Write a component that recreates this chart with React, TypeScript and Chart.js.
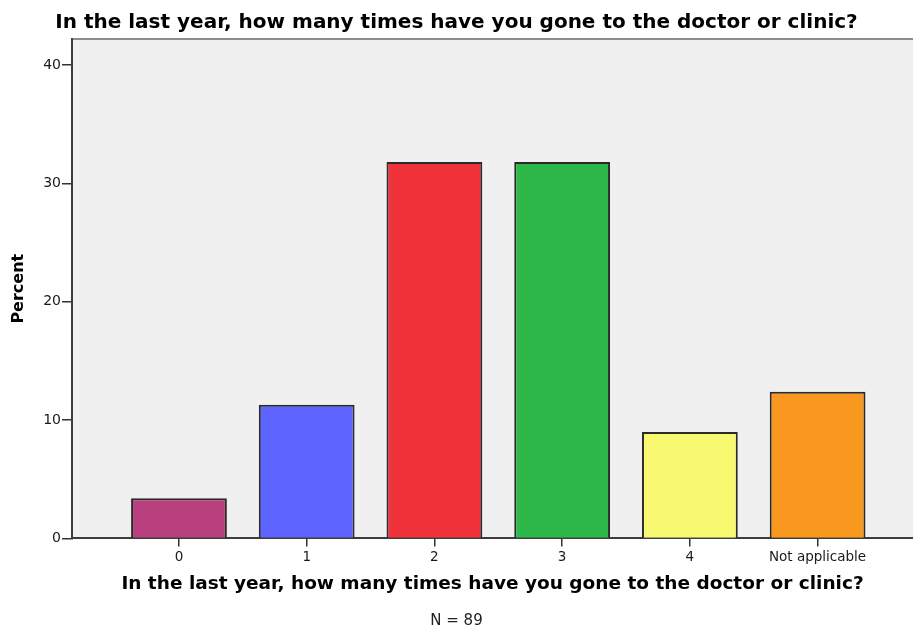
import React, { useEffect, useRef } from 'react';
import { Chart, registerables } from 'chart.js';

Chart.register(...registerables);

const categories: string[] = ['0', '1', '2', '3', '4', 'Not applicable'];
const percentValues: number[] = [3.4, 11.3, 31.8, 31.8, 9.0, 12.4];
const barColors: string[] = ['#b8407e', '#5c63ff', '#f0333b', '#2eb84a', '#f9f871', '#f8981e'];
const yTickValues: number[] = [0, 10, 20, 30, 40];
const chartTitle = 'In the last year, how many times have you gone to the doctor or clinic?';
const xAxisTitle = 'In the last year, how many times have you gone to the doctor or clinic?';
const yAxisTitle = 'Percent';
const footnote = 'N = 89';

const plotBackground = {
  id: 'plotBackground',
  beforeDraw(chart: any) {
    const { ctx, chartArea: a } = chart;
    ctx.save();
    ctx.fillStyle = '#f0f0f0';
    ctx.fillRect(a.left, a.top, a.right - a.left, a.bottom - a.top);
    ctx.strokeStyle = '#8c8c8c';
    ctx.lineWidth = 2;
    ctx.beginPath();
    ctx.moveTo(a.left, a.top);
    ctx.lineTo(a.right, a.top);
    ctx.stroke();
    ctx.restore();
  },
};

export default function App() {
  const canvasRef = useRef<HTMLCanvasElement | null>(null);

  useEffect(() => {
    document.body.style.margin = '0';
    const canvas = canvasRef.current;
    if (!canvas) return;
    const chart = new Chart(canvas, {
      type: 'bar',
      data: {
        datasets: [
          {
            data: percentValues.map((v, i) => ({ x: i, y: v })),
            backgroundColor: barColors,
            borderColor: '#2a2a2a',
            borderWidth: 2,
            barPercentage: 0.75,
            categoryPercentage: 1,
          },
        ],
      },
      options: {
        animation: false,
        responsive: false,
        maintainAspectRatio: false,
        layout: { padding: 0 },
        plugins: {
          legend: { display: false },
          tooltip: { enabled: false },
          title: {
            display: true,
            text: chartTitle,
            color: '#000',
            font: { family: 'DejaVu Sans', size: 20, weight: 'bold', lineHeight: 1.2 },
            padding: { top: 11, bottom: 4 },
          },
          subtitle: {
            display: true,
            position: 'bottom',
            text: footnote,
            color: '#222',
            font: { family: 'DejaVu Sans', size: 15, lineHeight: 0.8 },
            padding: { top: 20, bottom: 0 },
          },
        },
        scales: {
          x: {
            type: 'linear',
            min: -0.8375,
            max: 5.747,
            offset: false,
            afterBuildTicks: (scale: any) => {
              scale.ticks = categories.map((_, i) => ({ value: i }));
            },
            ticks: {
              autoSkip: false,
              maxRotation: 0,
              padding: 3,
              color: '#1a1a1a',
              font: { family: 'DejaVu Sans', size: 13.5 },
              callback: (v: any) => categories[Number(v)] ?? '',
            },
            grid: {
              offset: false,
              drawOnChartArea: false,
              drawTicks: true,
              tickLength: 8,
              color: '#333',
              lineWidth: 1.5,
            },
            border: { display: true, color: '#3c3c3c', width: 2 },
            title: {
              display: true,
              text: xAxisTitle,
              color: '#000',
              font: { family: 'DejaVu Sans', size: 18.5, weight: 'bold', lineHeight: 1.2 },
              padding: { top: 4.2, bottom: 0 },
            },
          },
          y: {
            type: 'linear',
            min: 0,
            max: 42.2,
            afterBuildTicks: (scale: any) => {
              scale.ticks = yTickValues.map((v) => ({ value: v }));
            },
            afterFit: (scale: any) => {
              scale.width = 72;
            },
            ticks: {
              padding: 1,
              color: '#1a1a1a',
              font: { family: 'DejaVu Sans', size: 14 },
            },
            grid: {
              drawOnChartArea: false,
              drawTicks: true,
              tickLength: 10,
              color: '#333',
              lineWidth: 1.5,
            },
            border: { display: true, color: '#3c3c3c', width: 2 },
            title: {
              display: true,
              text: yAxisTitle,
              color: '#000',
              font: { family: 'DejaVu Sans', size: 16, weight: 'bold', lineHeight: 1.2 },
              padding: { top: 9, bottom: 0 },
            },
          },
        },
      },
      plugins: [plotBackground],
    } as any);
    return () => chart.destroy();
  }, []);

  return (
    <div style={{ width: 913, height: 627, background: '#fff' }}>
      <canvas ref={canvasRef} width={913} height={627} style={{ display: 'block' }} />
    </div>
  );
}
